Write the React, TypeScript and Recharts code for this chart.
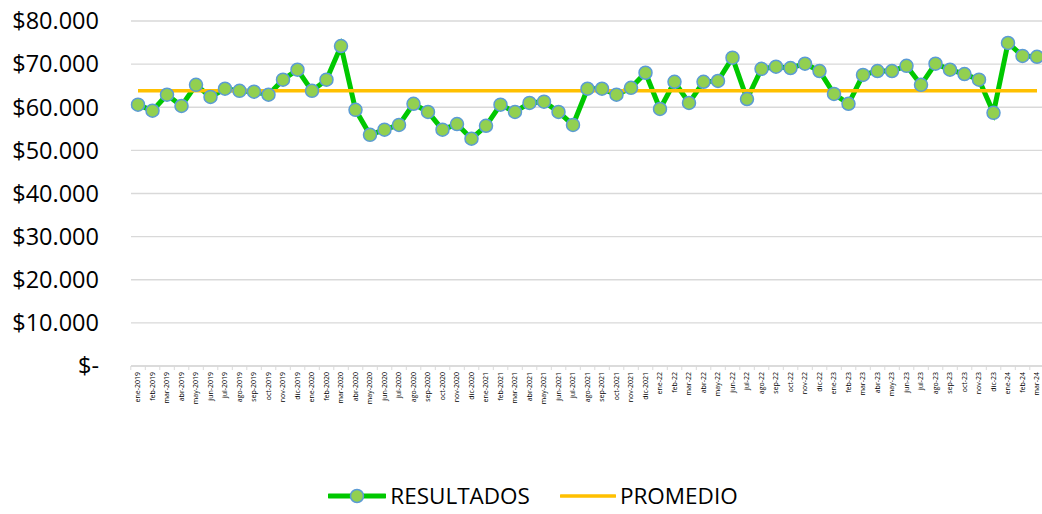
import React from 'react';
import { LineChart, Line, XAxis, YAxis, CartesianGrid, Legend } from 'recharts';

const MONTHS = [
  'ene-2019', 'feb-2019', 'mar-2019', 'abr-2019', 'may-2019', 'jun-2019', 'jul-2019', 'ago-2019', 'sep-2019', 'oct-2019', 'nov-2019', 'dic-2019',
  'ene-2020', 'feb-2020', 'mar-2020', 'abr-2020', 'may-2020', 'jun-2020', 'jul-2020', 'ago-2020', 'sep-2020', 'oct-2020', 'nov-2020', 'dic-2020',
  'ene-2021', 'feb-2021', 'mar-2021', 'abr-2021', 'may-2021', 'jun-2021', 'jul-2021', 'ago-2021', 'sep-2021', 'oct-2021', 'nov-2021', 'dic-2021',
  'ene-22', 'feb-22', 'mar-22', 'abr-22', 'may-22', 'jun-22', 'jul-22', 'ago-22', 'sep-22', 'oct-22', 'nov-22', 'dic-22',
  'ene-23', 'feb-23', 'mar-23', 'abr-23', 'may-23', 'jun-23', 'jul-23', 'ago-23', 'sep-23', 'oct-23', 'nov-23', 'dic-23',
  'ene-24', 'feb-24', 'mar-24',
];

const RESULTADOS = [
  60600, 59200, 62900, 60300, 65200, 62400, 64300, 63800, 63600, 62900, 66400, 68700,
  63800, 66400, 74200, 59400, 53600, 54800, 55900, 60800, 58900, 54800, 56100, 52700,
  55700, 60600, 58900, 61000, 61300, 58900, 55900, 64300, 64300, 62900, 64500, 68000,
  59600, 65900, 61000, 65900, 66100, 71500, 61900, 68900, 69400, 69100, 70100, 68400,
  63100, 60800, 67500, 68400, 68400, 69600, 65200, 70100, 68700, 67700, 66400, 58700,
  74900, 71900, 71700,
];

const PROMEDIO = 63800;

const Y_TICKS = [0, 10000, 20000, 30000, 40000, 50000, 60000, 70000, 80000];

const data = MONTHS.map((m, i) => ({ mes: m, resultados: RESULTADOS[i], promedio: PROMEDIO }));

const FONT = '"Open Sans", "Liberation Sans", sans-serif';

const money = (v: number) =>
  v === 0 ? '$-' : '$' + String(v).replace(/\B(?=(\d{3})+(?!\d))/g, '.');

// rotated month label plus a small mark between categories
const MonthTick = (props: any) => {
  const { x, y, payload } = props;
  const half = 7.2;
  return (
    <g>
      <line x1={x - half} y1={y} x2={x - half} y2={y + 4} stroke="#d9d9d9" strokeWidth={1} />
      <text
        x={x}
        y={y + 6}
        transform={`rotate(-90 ${x} ${y + 6})`}
        textAnchor="end"
        dy="0.35em"
        fontSize={7}
        fontFamily={FONT}
        fill="#000"
      >
        {payload.value}
      </text>
    </g>
  );
};

const LegendBox = () => (
  <div
    style={{
      height: 88,
      display: 'flex',
      alignItems: 'flex-end',
      justifyContent: 'center',
      fontFamily: FONT,
      fontSize: 22.5,
      color: '#000',
      paddingLeft: 24,
      boxSizing: 'border-box',
    }}
  >
    <div style={{ display: 'flex', alignItems: 'center', marginBottom: 3 }}>
      <svg width={58} height={20}>
        <line x1={1} y1={10} x2={57} y2={10} stroke="#00c800" strokeWidth={5} strokeLinecap="round" />
        <circle cx={29} cy={10} r={6.5} fill="#92d050" stroke="#5b9bd5" strokeWidth={1.5} />
      </svg>
      <span style={{ marginLeft: 4 }}>RESULTADOS</span>
      <svg width={56} height={20} style={{ marginLeft: 30 }}>
        <line x1={1} y1={10} x2={55} y2={10} stroke="#ffc000" strokeWidth={3.5} strokeLinecap="round" />
      </svg>
      <span style={{ marginLeft: 4 }}>PROMEDIO</span>
    </div>
  </div>
);

export default function App() {
  return (
    <div style={{ position: 'absolute', left: 0, top: 0, background: '#fff' }}>
      <LineChart width={1042} height={514} data={data} margin={{ top: 21, right: 0, left: 0, bottom: 0 }}>
        <CartesianGrid vertical={false} stroke="#d9d9d9" strokeWidth={1.3} />
        <XAxis
          dataKey="mes"
          interval={0}
          height={60}
          padding={{ left: 7, right: 5 }}
          tickLine={false}
          tickSize={0}
          tickMargin={0}
          axisLine={{ stroke: '#d9d9d9', strokeWidth: 1.5 }}
          tick={<MonthTick />}
        />
        <YAxis
          width={131}
          domain={[0, 80000]}
          ticks={Y_TICKS}
          interval={0}
          axisLine={false}
          tickLine={false}
          tickSize={0}
          tickMargin={32}
          tickFormatter={money}
          tick={{ fontSize: 23.5, fontFamily: FONT, fill: '#000' }}
        />
        <Legend verticalAlign="bottom" height={88} content={<LegendBox />} />
        <Line
          type="linear"
          dataKey="resultados"
          name="RESULTADOS"
          stroke="#00c800"
          strokeWidth={5}
          dot={{ r: 6.5, fill: '#92d050', stroke: '#5b9bd5', strokeWidth: 1.5 }}
          activeDot={false}
          isAnimationActive={false}
        />
        <Line
          type="linear"
          dataKey="promedio"
          name="PROMEDIO"
          stroke="#ffc000"
          strokeWidth={3.5}
          dot={false}
          activeDot={false}
          isAnimationActive={false}
        />
      </LineChart>
    </div>
  );
}
